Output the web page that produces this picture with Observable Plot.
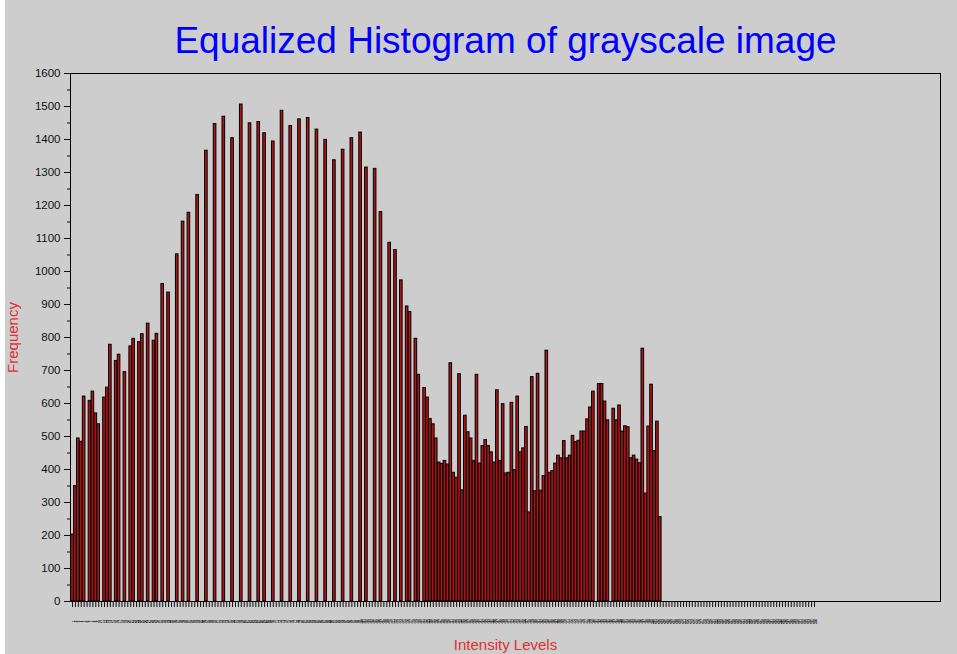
<!DOCTYPE html>
<html><head><meta charset="utf-8">
<script src="https://cdn.jsdelivr.net/npm/d3@7"></script>
<script src="https://cdn.jsdelivr.net/npm/@observablehq/plot@0.6"></script>
<style>
html,body{margin:0;padding:0;background:#ffffff;}
#chart{position:absolute;left:5px;top:0;}
</style></head><body><div id="chart"></div>
<script>
const title = "Equalized Histogram of grayscale image";
const xLabel = "Intensity Levels";
const yLabel = "Frequency";
// intensity levels (x tick labels)
const levels = d3.range(1, 257);
// frequency of each intensity level (levels 1..256)
const counts = [
  203, 350, 494, 484, 621, 0, 608, 636, 570, 537,
  0, 618, 648, 778, 0, 729, 748, 0, 695, 0,
  773, 796, 0, 786, 810, 0, 842, 0, 790, 811,
  0, 962, 0, 936, 0, 0, 1052, 0, 1151, 0,
  1178, 0, 0, 1232, 0, 0, 1366, 0, 0, 1447,
  0, 0, 1469, 0, 0, 1404, 0, 0, 1506, 0,
  0, 1449, 0, 0, 1453, 0, 1419, 0, 0, 1394,
  0, 0, 1487, 0, 0, 1441, 0, 0, 1461, 0,
  0, 1465, 0, 0, 1430, 0, 0, 1399, 0, 0,
  1337, 0, 0, 1369, 0, 0, 1404, 0, 0, 1421,
  0, 1315, 0, 0, 1311, 0, 1180, 0, 0, 1087,
  0, 1065, 0, 973, 0, 894, 877, 0, 796, 687,
  0, 647, 618, 553, 537, 494, 421, 417, 426, 415,
  722, 390, 375, 689, 337, 563, 513, 494, 426, 687,
  418, 471, 489, 471, 452, 421, 640, 426, 598, 388,
  390, 602, 398, 621, 452, 464, 529, 270, 680, 334,
  690, 336, 380, 760, 390, 395, 418, 442, 434, 486,
  434, 442, 502, 483, 487, 515, 515, 552, 588, 636,
  0, 659, 659, 606, 549, 0, 584, 549, 594, 515,
  531, 528, 434, 442, 430, 419, 766, 327, 530, 657,
  456, 545, 256, 0, 0, 0, 0, 0, 0, 0,
  0, 0, 0, 0, 0, 0, 0, 0, 0, 0,
  0, 0, 0, 0, 0, 0, 0, 0, 0, 0,
  0, 0, 0, 0, 0, 0, 0, 0, 0, 0,
  0, 0, 0, 0, 0, 0, 0, 0, 0, 0,
  0, 0, 0, 0, 0, 0
];
const yTicks = [0, 100, 200, 300, 400, 500, 600, 700, 800, 900, 1000, 1100, 1200, 1300, 1400, 1500, 1600];
const yMinor = [50, 150, 250, 350, 450, 550, 650, 750, 850, 950, 1050, 1150, 1250, 1350, 1450, 1550];

const data = levels.map((l, i) => ({level: l, count: counts[i]})).filter(d => d.count > 0);
const font = "'Liberation Sans', Arial, sans-serif";

const chart = Plot.plot({
  width: 952, height: 654,
  marginLeft: 65, marginRight: 17, marginTop: 73, marginBottom: 53,
  style: {background: "#cdcdcd", fontFamily: font, color: "#111"},
  x: {type: "linear", domain: [0.31, 299.3]},
  y: {domain: [0, 1600]},
  marks: [
    Plot.rectY(data, {x1: d => d.level - 0.45, x2: d => d.level + 0.45, y1: 0, y2: "count",
      fill: "#b01414", stroke: "#000000", strokeWidth: 1}),
    Plot.frame({stroke: "#000000"}),
    Plot.axisY({ticks: yTicks, tickSize: 6, tickPadding: 4, fontSize: 11.5, label: null, tickFormat: d => String(d)}),
    Plot.axisY({ticks: yMinor, tickSize: 3, text: null, label: null}),
    Plot.axisX({ticks: levels, tickSize: 6, text: null, label: null}),
    Plot.axisX({ticks: levels, tickSize: 0, tickPadding: 20, fontSize: 2.8, fontWeight: "bold", rotate: -90,
      textAnchor: "middle", label: null, fill: "#000", stroke: "#000", strokeWidth: 0.9, tickFormat: d => String(d)}),
    Plot.text([title], {frameAnchor: "top", dy: -32, textAnchor: "middle", lineAnchor: "middle",
      fontSize: 37, fill: "#0000ff", fontFamily: font}),
    Plot.text([yLabel], {frameAnchor: "left", dx: -57, rotate: -90, textAnchor: "middle", lineAnchor: "middle",
      fontSize: 15, fill: "#e03030", fontFamily: font}),
    Plot.text([xLabel], {frameAnchor: "bottom", dy: 44, textAnchor: "middle", lineAnchor: "middle",
      fontSize: 15, fill: "#e03030", fontFamily: font})
  ]
});
document.getElementById("chart").appendChild(chart);
</script>
</body></html>
